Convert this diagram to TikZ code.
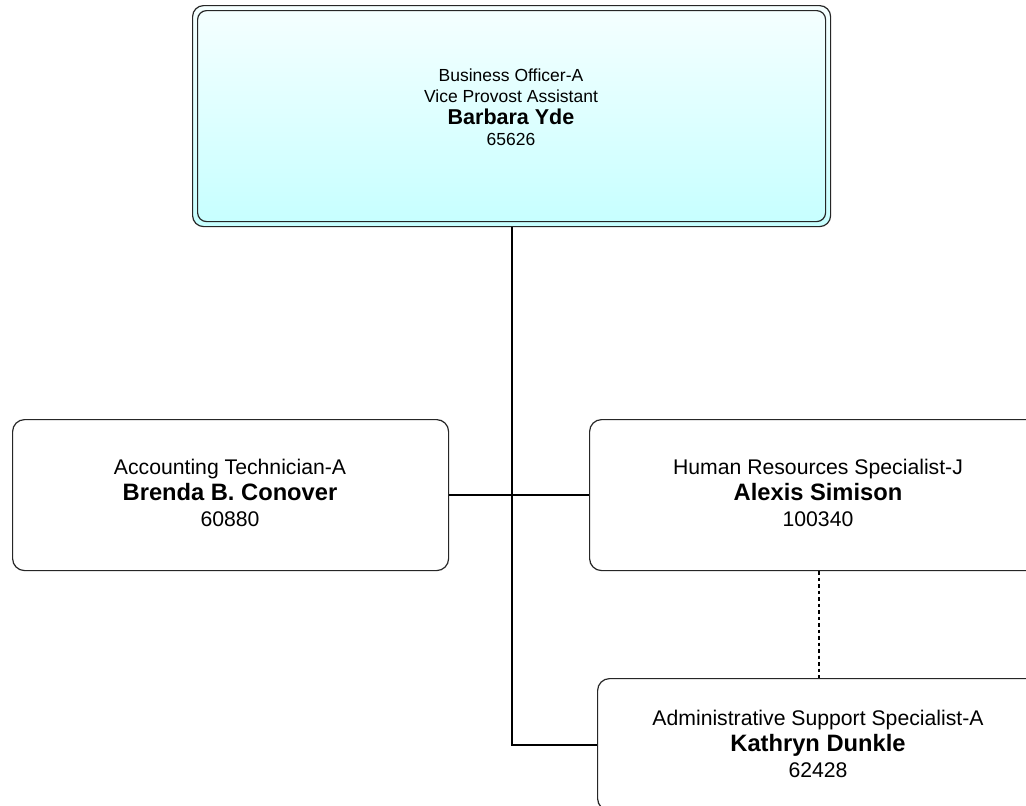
\documentclass[tikz,border=0pt]{standalone}
\usepackage{fontspec}
\setmainfont{Liberation Sans}
\begin{document}
\begin{tikzpicture}[x=1pt,y=-1pt,
  box/.style={draw=black!85, line width=1.2pt, rounded corners=12pt},
  topbox/.style={draw=black!85, line width=1.2pt, rounded corners=11pt, top color=cyan!4, bottom color=cyan!22},
  lbl/.style={align=center, inner sep=0pt, font=\fontsize{17.5}{21.5}\selectfont},
  biglbl/.style={align=center, inner sep=0pt, font=\fontsize{21.2}{26}\selectfont},
  conn/.style={draw=black, line width=2pt},
  dotconn/.style={draw=black, line width=2pt, dash pattern=on 3.5pt off 3pt}]
\useasboundingbox (0,0) rectangle (1026,806);
\clip (0,0) rectangle (1026,806);
\fill[white] (0,0) rectangle (1026,806);
% top box (double border)
\node[topbox, minimum width=638pt, minimum height=221pt, anchor=north west] (top) at (192,5) {};
\node[topbox, minimum width=628pt, minimum height=211pt, anchor=north west, rounded corners=9pt] (topin) at (197,10) {};
\node[lbl] (toptext) at (511,107) {Business Officer-A\\Vice Provost Assistant\\{\fontsize{21.5}{21.5}\selectfont\bfseries Barbara Yde}\\65626};
% accounting
\node[box, minimum width=436pt, minimum height=151pt, anchor=north west] (acct) at (12,419) {};
\node[biglbl] (accttext) at (230,493) {Accounting Technician-A\\{\fontsize{23.7}{26}\selectfont\bfseries Brenda B. Conover}\\60880};
% HR
\node[box, minimum width=458pt, minimum height=151pt, anchor=north west] (hr) at (589,419) {};
\node[biglbl] (hrtext) at (818,493) {Human Resources Specialist-J\\{\fontsize{23.7}{26}\selectfont\bfseries Alexis Simison}\\100340};
% admin
\node[box, minimum width=442pt, minimum height=132pt, anchor=north west] (admin) at (597,678) {};
\node[biglbl] (admintext) at (818,744) {Administrative Support Specialist-A\\{\fontsize{23.7}{26}\selectfont\bfseries Kathryn Dunkle}\\62428};
% connectors
\draw[conn] (top.south) |- (admin.west);
\draw[conn] (acct.east) -- (hr.west);
\draw[dotconn] (hr.south) -- (hr.south |- admin.north);
\end{tikzpicture}
\end{document}
